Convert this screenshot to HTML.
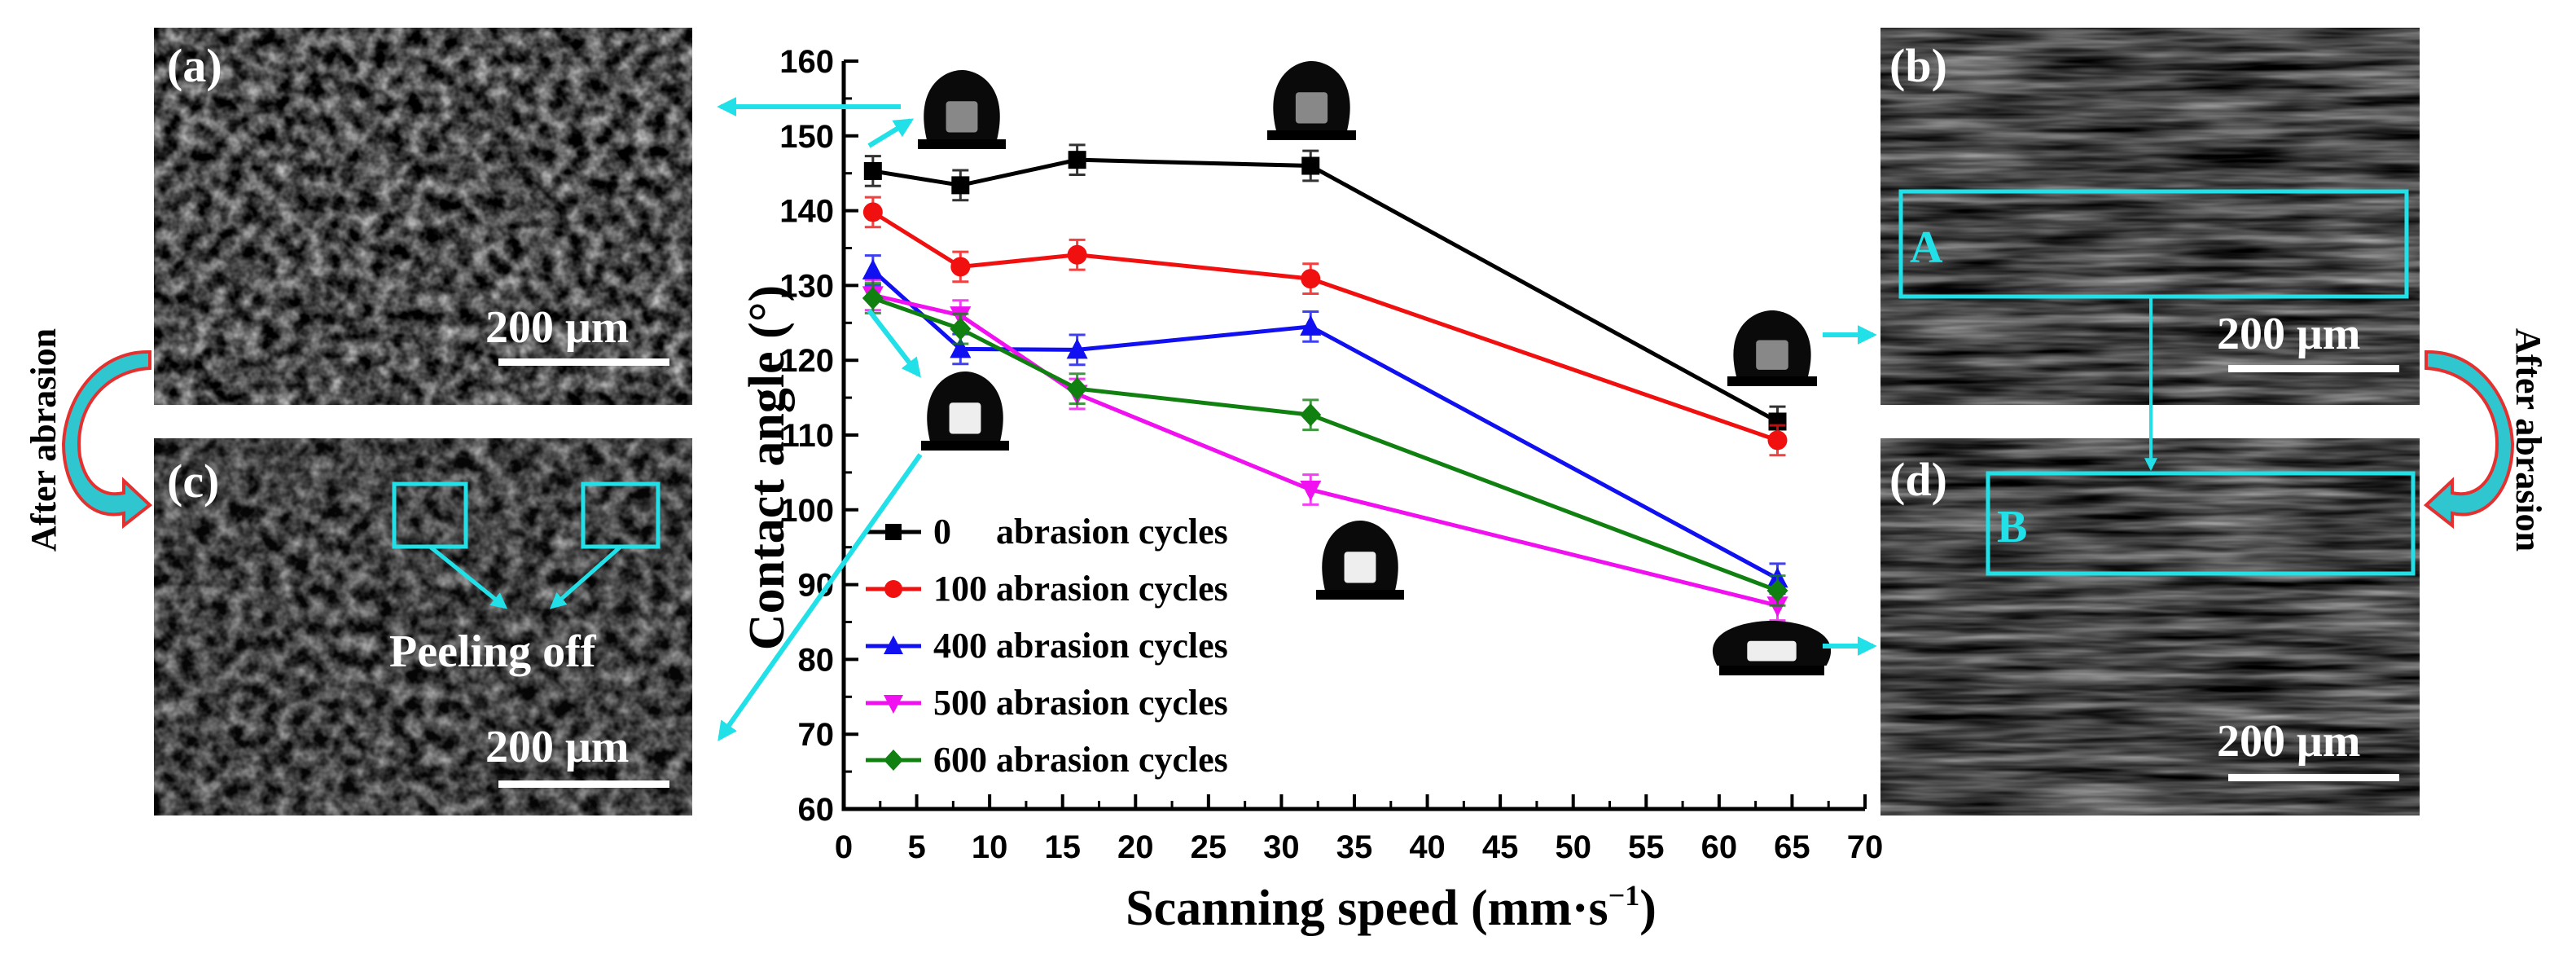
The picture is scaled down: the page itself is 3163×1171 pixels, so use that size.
<!DOCTYPE html>
<html><head><meta charset="utf-8"><style>
html,body{margin:0;padding:0;background:#fff;}
svg{display:block;}
</style></head><body>
<svg id="fig" width="3163" height="1171" viewBox="0 0 3163 1171" xmlns="http://www.w3.org/2000/svg">
<defs>
<clipPath id="cA"><rect x="189" y="34" width="661" height="463"/></clipPath>
<clipPath id="cC"><rect x="189" y="538" width="661" height="463"/></clipPath>
<clipPath id="cB"><rect x="2309" y="34" width="662" height="463"/></clipPath>
<clipPath id="cD"><rect x="2309" y="538" width="662" height="463"/></clipPath>
<filter id="tex1" filterUnits="userSpaceOnUse" x="0" y="0" width="3163" height="1171" color-interpolation-filters="sRGB"><feTurbulence type="fractalNoise" baseFrequency="0.05" numOctaves="3" seed="7"/><feColorMatrix type="matrix" values="1.2 0 0 0 -0.32  1.2 0 0 0 -0.32  1.2 0 0 0 -0.32  0 0 0 0 1"/></filter>
<filter id="tex2" filterUnits="userSpaceOnUse" x="0" y="0" width="3163" height="1171" color-interpolation-filters="sRGB"><feTurbulence type="fractalNoise" baseFrequency="0.006 0.08" numOctaves="3" seed="5"/><feColorMatrix type="matrix" values="0.9 0 0 0 -0.18  0.9 0 0 0 -0.18  0.9 0 0 0 -0.18  0 0 0 0 1"/></filter>
<marker id="ah" viewBox="0 0 10 10" refX="8" refY="5" markerWidth="4" markerHeight="4" orient="auto"><path d="M0,0 L10,5 L0,10 z" fill="#22e0e8"/></marker>
</defs>

<g>
<g clip-path="url(#cA)"><rect x="189" y="34" width="661" height="463" filter="url(#tex1)"/></g>
<text x="205" y="100" font-family="Liberation Serif,serif" font-weight="bold" font-size="58" fill="#fff">(a)</text>
<text x="596" y="420" font-family="Liberation Serif,serif" font-weight="bold" font-size="56" fill="#fff">200 μm</text>
<rect x="612" y="440" width="210" height="9" fill="#fff"/>
</g>
<g>
<g clip-path="url(#cC)"><rect x="189" y="538" width="661" height="463" fill="#222"/><rect x="189" y="538" width="661" height="463" filter="url(#tex1)" opacity="0.85"/></g>
<text x="205" y="610" font-family="Liberation Serif,serif" font-weight="bold" font-size="58" fill="#fff">(c)</text>
<rect x="484" y="594" width="88" height="77" fill="none" stroke="#22e0e8" stroke-width="5"/>
<rect x="716" y="594" width="92" height="77" fill="none" stroke="#22e0e8" stroke-width="5"/>
<line x1="528" y1="671" x2="620" y2="745" stroke="#22e0e8" stroke-width="5" marker-end="url(#ah)"/>
<line x1="762" y1="671" x2="678" y2="745" stroke="#22e0e8" stroke-width="5" marker-end="url(#ah)"/>
<text x="478" y="818" font-family="Liberation Serif,serif" font-weight="bold" font-size="56" fill="#fff">Peeling off</text>
<text x="596" y="935" font-family="Liberation Serif,serif" font-weight="bold" font-size="56" fill="#fff">200 μm</text>
<rect x="612" y="958" width="210" height="9" fill="#fff"/>
</g>
<g>
<g clip-path="url(#cB)"><rect x="2309" y="34" width="662" height="463" filter="url(#tex2)"/></g>
<text x="2320" y="100" font-family="Liberation Serif,serif" font-weight="bold" font-size="58" fill="#fff">(b)</text>
<rect x="2334" y="235" width="621" height="129" fill="none" stroke="#22e0e8" stroke-width="5"/>
<text x="2345" y="322" font-family="Liberation Serif,serif" font-weight="bold" font-size="56" fill="#22e0e8">A</text>
<text x="2722" y="428" font-family="Liberation Serif,serif" font-weight="bold" font-size="56" fill="#fff">200 μm</text>
<rect x="2736" y="448" width="210" height="9" fill="#fff"/>
</g>
<g>
<g clip-path="url(#cD)"><rect x="2309" y="538" width="662" height="463" filter="url(#tex2)"/></g>
<text x="2320" y="608" font-family="Liberation Serif,serif" font-weight="bold" font-size="58" fill="#fff">(d)</text>
<rect x="2441" y="581" width="522" height="123" fill="none" stroke="#22e0e8" stroke-width="5"/>
<text x="2452" y="665" font-family="Liberation Serif,serif" font-weight="bold" font-size="56" fill="#22e0e8">B</text>
<text x="2722" y="928" font-family="Liberation Serif,serif" font-weight="bold" font-size="56" fill="#fff">200 μm</text>
<rect x="2736" y="950" width="210" height="9" fill="#fff"/>
</g>
<line x1="2641" y1="364" x2="2641" y2="575" stroke="#22e0e8" stroke-width="4" marker-end="url(#ah)"/>

<text transform="translate(68,540) rotate(-90)" text-anchor="middle" font-family="Liberation Serif,serif" font-weight="bold" font-size="44">After abrasion</text>
<text transform="translate(3090,540) rotate(90)" text-anchor="middle" font-family="Liberation Serif,serif" font-weight="bold" font-size="44">After abrasion</text>
<path d="M184,452 C130,455 90,500 98,560 C106,600 130,610 152,605 L152,590 L184,620 L152,645 L152,630 C110,640 78,600 78,545 C80,490 120,430 184,432 Z" fill="#2fc6d0" stroke="#e53030" stroke-width="4"/>
<path d="M2979,452 C3033,455 3073,500 3065,560 C3057,600 3033,610 3011,605 L3011,590 L2979,620 L3011,645 L3011,630 C3053,640 3085,600 3085,545 C3083,490 3043,430 2979,432 Z" fill="#2fc6d0" stroke="#e53030" stroke-width="4"/>

<g id="chart"></g>
<g id="drops"></g>
<g stroke="#22e0e8" stroke-width="6" fill="none">
<line x1="1106" y1="131" x2="885" y2="131" marker-end="url(#ah)"/>
<line x1="1067" y1="179" x2="1118" y2="148" marker-end="url(#ah)"/>
<line x1="1067" y1="381" x2="1128" y2="460" marker-end="url(#ah)"/>
<line x1="1130" y1="558" x2="884" y2="906" marker-end="url(#ah)"/>
<line x1="2238" y1="411" x2="2300" y2="411" marker-end="url(#ah)"/>
<line x1="2238" y1="793" x2="2300" y2="793" marker-end="url(#ah)"/>
</g>
</svg>
<script>
const speeds=[2,8,16,32,64];
const ca0=[145.3,143.4,146.8,146.0,111.8];
const ca100=[139.8,132.5,134.1,130.9,109.3];
const ca400=[132.0,121.5,121.4,124.5,90.8];
const ca500=[128.7,126.0,115.5,102.7,87.2];
const ca600=[128.3,124.2,116.2,112.7,89.2];
const errs=[2.0,2.0,2.0,2.0,2.0];
const seriesNames=["0     abrasion cycles","100 abrasion cycles","400 abrasion cycles","500 abrasion cycles","600 abrasion cycles"];
const xTicks=[0,5,10,15,20,25,30,35,40,45,50,55,60,65,70];
const yTicks=[60,70,80,90,100,110,120,130,140,150,160];

const NS="http://www.w3.org/2000/svg";
const X0=1036,X1=2290,Y0=993,Y1=75;
const xs=v=>X0+(v-0)/(70-0)*(X1-X0);
const ys=v=>Y0-(v-60)/(160-60)*(Y0-Y1);
const g=document.getElementById('chart');
function mk(tag,attrs,parent){const e=document.createElementNS(NS,tag);for(const k in attrs)e.setAttribute(k,attrs[k]);(parent||g).appendChild(e);return e;}

let ax=mk('path',{d:`M${X0},${Y1} L${X0},${Y0} L${X1},${Y0}`,fill:'none',stroke:'#000','stroke-width':5});


xTicks.forEach(t=>{
  const l=mk('line',{x1:xs(t),x2:xs(t),y1:Y0,y2:Y0-18,stroke:'#000','stroke-width':4});
  
  
  if(t<70){const m=mk('line',{x1:xs(t+2.5),x2:xs(t+2.5),y1:Y0,y2:Y0-10,stroke:'#000','stroke-width':3});
  
  }
  const tx=mk('text',{x:xs(t),y:Y0+60,'text-anchor':'middle','font-family':'Liberation Sans,sans-serif','font-weight':'bold','font-size':40});
  tx.textContent=t;
  
  
});
yTicks.forEach(t=>{
  const l=mk('line',{x1:X0,x2:X0+18,y1:ys(t),y2:ys(t),stroke:'#000','stroke-width':4});
  
  
  if(t<160){const m=mk('line',{x1:X0,x2:X0+10,y1:ys(t+5),y2:ys(t+5),stroke:'#000','stroke-width':3});
  
  }
  const tx=mk('text',{x:X0-12,y:ys(t)+14,'text-anchor':'end','font-family':'Liberation Sans,sans-serif','font-weight':'bold','font-size':40});
  tx.textContent=t;
  
  
});
const xt=mk('text',{x:(X0+X1)/2+45,y:1135,'text-anchor':'middle','font-family':'Liberation Serif,serif','font-weight':'bold','font-size':62});
xt.innerHTML='Scanning speed (mm·s<tspan dy="-24" font-size="36">−1</tspan><tspan dy="24">)</tspan>';


const yt=mk('text',{transform:`translate(962,${(Y0+Y1)/2+40}) rotate(-90)`,'text-anchor':'middle','font-family':'Liberation Serif,serif','font-weight':'bold','font-size':62});
yt.textContent='Contact angle (°)';



const all=[ca0,ca100,ca400,ca500,ca600];
const colors=['#000','#f01010','#1010f0','#f010f0','#108010'];
const shapes=['square','circle','up','down','diamond'];
function marker(shape,x,y,c,parent,sz){
  sz=sz||11;let e;
  if(shape==='square')e=mk('rect',{x:x-sz,y:y-sz,width:2*sz,height:2*sz,fill:c},parent);
  else if(shape==='circle')e=mk('circle',{cx:x,cy:y,r:sz+1,fill:c},parent);
  else if(shape==='up')e=mk('polygon',{points:`${x},${y-sz-3} ${x-sz-2},${y+sz} ${x+sz+2},${y+sz}`,fill:c},parent);
  else if(shape==='down')e=mk('polygon',{points:`${x},${y+sz+3} ${x-sz-2},${y-sz} ${x+sz+2},${y-sz}`,fill:c},parent);
  else e=mk('polygon',{points:`${x},${y-sz-3} ${x+sz+2},${y} ${x},${y+sz+3} ${x-sz-2},${y}`,fill:c},parent);
  return e;
}
all.forEach((s,i)=>{
  const sg=mk('g',{});
  
  
  const p=mk('polyline',{points:s.map((v,j)=>xs(speeds[j])+','+ys(v)).join(' '),fill:'none',stroke:colors[i],'stroke-width':5},sg);
  
  
  s.forEach((v,j)=>{
    const x=xs(speeds[j]),y=ys(v),e=errs[j];
    const eb=mk('path',{d:`M${x},${ys(v+e)} L${x},${ys(v-e)} M${x-10},${ys(v+e)} L${x+10},${ys(v+e)} M${x-10},${ys(v-e)} L${x+10},${ys(v-e)}`,stroke:colors[i],'stroke-width':3,fill:'none',opacity:0.8},sg);
    
    
    const m=marker(shapes[i],x,y,colors[i],sg);
    
    
  });
});
const lg=mk('g',{});


seriesNames.forEach((n,i)=>{
  const y=653+i*70;
  const le=mk('g',{},lg);
  
  
  mk('line',{x1:1063,x2:1131,y1:y,y2:y,stroke:colors[i],'stroke-width':5},le);
  marker(shapes[i],1097,y,colors[i],le,10);
  const t=mk('text',{x:1146,y:y+14,'font-family':'Liberation Serif,serif','font-weight':'bold','font-size':44},le);
  t.setAttribute('style','white-space:pre');
  t.textContent=n;
});
const dg=document.getElementById('drops');
const drops=[[1127,86,108,97,0.75],[1556,75,109,97,0.78],[1131,456,108,97,0.62],[1616,639,108,97,0.6],[2121,381,110,93,0.7],[2111,762,129,67,0.45]];
drops.forEach(d=>{
  const [x,y,w,h,f]=d;
  const grp=mk('g',{},dg);
  
  
  const base=h-12;
  mk('rect',{x:x,y:y+base,width:w,height:12,fill:'#000'},grp);
  const rw=w*0.4*(f>0.55?1:1.3);
  mk('path',{d:`M${x+w/2-rw},${y+base} C${x+w/2-rw*1.35},${y+base*0.25} ${x+w/2-rw*0.5},${y} ${x+w/2},${y} C${x+w/2+rw*0.5},${y} ${x+w/2+rw*1.35},${y+base*0.25} ${x+w/2+rw},${y+base} Z`,fill:'#0a0a0a'},grp);
  mk('rect',{x:x+w/2-rw*0.45,y:y+base*0.45,width:rw*0.9,height:base*0.45,fill:f>0.65?'#888':'#eee',rx:4},grp);
});
</script>
</body></html>
